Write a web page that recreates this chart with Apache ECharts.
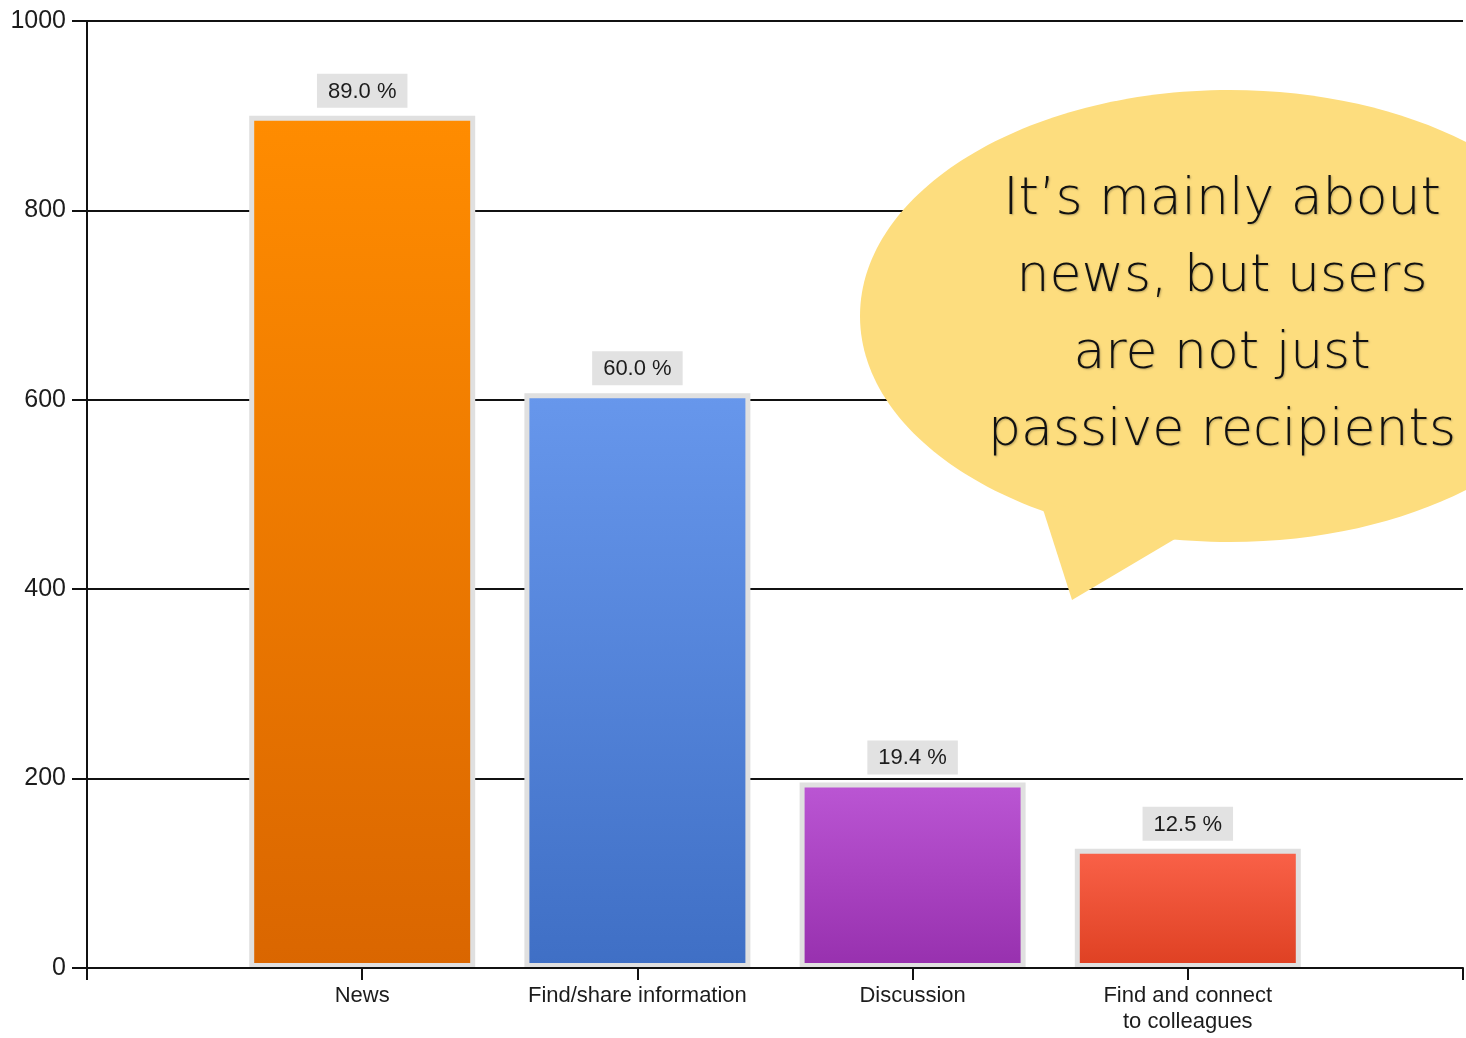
<!DOCTYPE html>
<html>
<head>
<meta charset="utf-8">
<title>Usage purposes</title>
<script src="https://cdn.jsdelivr.net/npm/echarts@6/dist/echarts.min.js"></script>
<style>
  html, body { margin: 0; padding: 0; background: #ffffff; }
  #chart { width: 1466px; height: 1038px; }
</style>
</head>
<body>
<div id="chart"></div>
<script>
// Survey answers: how many respondents use the service for each purpose
const categories = ['News', 'Find/share information', 'Discussion', 'Find and connect\nto colleagues'];
const counts = [900, 607, 196, 126];
const respondents = 1011;

// Value axis ticks
const yMin = 0;
const yMax = 1000;
const yStep = 200;

// Bar gradients (top colour, bottom colour)
const topColors = ['#ff8c00', '#6797ec', '#bb56d4', '#fa6249'];
const bottomColors = ['#da6600', '#3f6fc5', '#9730ae', '#de4022'];

// Callout text
const calloutLines = ["It\u2019s mainly about", 'news, but users', 'are not just', 'passive recipients'];

const textColor = '#1c1c1c';
const uiFont = '"Liberation Sans", Arial, sans-serif';

const chart = echarts.init(document.getElementById('chart'), null, { renderer: 'canvas' });

const barData = counts.map((v, i) => ({
  value: [i + 1, v],
  itemStyle: {
    color: new echarts.graphic.LinearGradient(0, 0, 0, 1, [
      { offset: 0, color: topColors[i] },
      { offset: 1, color: bottomColors[i] }
    ])
  }
}));

chart.setOption({
  animation: false,
  backgroundColor: '#ffffff',
  grid: { left: 87, right: 0, top: 21, bottom: 70, containLabel: false },
  xAxis: {
    type: 'value',
    min: 0,
    max: categories.length + 1,
    interval: 1,
    z: 5,
    axisLine: { show: true, lineStyle: { color: '#111', width: 2 } },
    axisTick: { show: true, length: 12, lineStyle: { color: '#111', width: 2 } },
    splitLine: { show: false },
    axisLabel: {
      margin: 15,
      color: textColor,
      fontFamily: uiFont,
      fontSize: 22,
      lineHeight: 26,
      showMinLabel: true,
      showMaxLabel: true,
      formatter: v => categories[v - 1] || ''
    }
  },
  yAxis: {
    type: 'value',
    min: yMin,
    max: yMax,
    interval: yStep,
    axisLine: { show: true, lineStyle: { color: '#111', width: 2 } },
    axisTick: { show: true, length: 15, lineStyle: { color: '#111', width: 2 } },
    splitLine: { show: true, lineStyle: { color: '#111', width: 2 } },
    axisLabel: {
      margin: 21,
      color: textColor,
      fontFamily: uiFont,
      fontSize: 25,
      formatter: v => String(v)
    }
  },
  series: [{
    type: 'bar',
    barWidth: 226,
    data: barData,
    itemStyle: { borderColor: '#e0e0e0', borderWidth: 5 },
    label: {
      show: true,
      position: 'top',
      distance: 8,
      color: textColor,
      fontFamily: uiFont,
      fontSize: 22,
      backgroundColor: '#e2e2e2',
      padding: [7, 11, 5, 11],
      formatter: p => (p.value[1] / respondents * 100).toFixed(1) + ' %'
    }
  }],
  graphic: [
    {
      type: 'ellipse',
      z: 100,
      shape: { cx: 1230, cy: 316, rx: 370, ry: 226 },
      style: { fill: '#fddd7e' }
    },
    {
      type: 'polygon',
      z: 101,
      shape: { points: [[1040, 500], [1072, 600], [1180, 536]] },
      style: { fill: '#fddd7e' }
    },
    {
      type: 'text',
      z: 102,
      x: 1222,
      y: 316,
      style: {
        text: calloutLines.join('\n'),
        fill: '#111',
        font: '200 52px "DejaVu Sans", sans-serif',
        lineHeight: 77,
        align: 'center',
        verticalAlign: 'middle',
        textShadowColor: 'rgba(0,0,0,0.25)',
        textShadowBlur: 2,
        textShadowOffsetX: 1,
        textShadowOffsetY: 1
      }
    }
  ]
});
</script>
</body>
</html>
